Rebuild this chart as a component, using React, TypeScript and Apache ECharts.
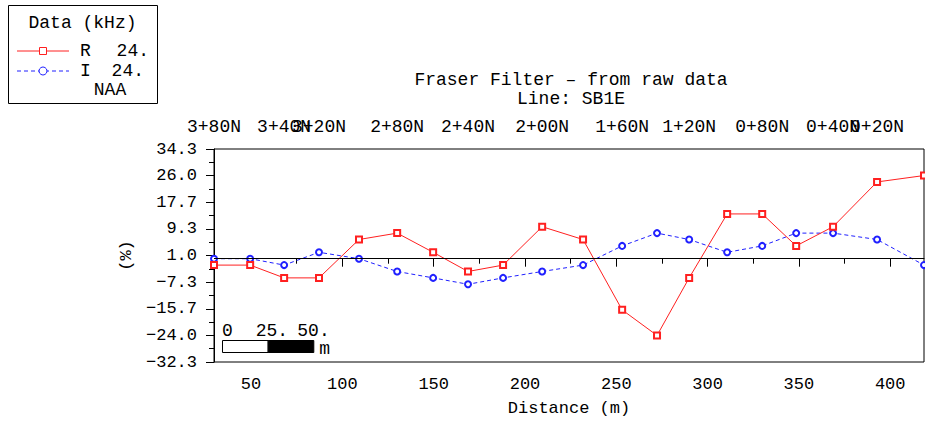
import React, { useEffect, useRef } from "react";
import * as echarts from "echarts";

// Station distances along line SB1E (m)
const distances = [29.7, 49.5, 68.1, 87.2, 109.1, 130.0, 149.7, 168.8, 188.0, 209.4, 231.8, 253.2, 272.3, 289.9, 310.7, 329.9, 348.5, 368.7, 392.8, 418.5];
const stations = ["3+80N", "3+60N", "3+40N", "3+20N", "3+00N", "2+80N", "2+60N", "2+40N", "2+20N", "2+00N", "1+80N", "1+60N", "1+40N", "1+20N", "1+00N", "0+80N", "0+60N", "0+40N", "0+20N", "0+00N"];
// Stations printed along the top of the profile
const stationLabels = ["3+80N", "3+40N", "3+20N", "2+80N", "2+40N", "2+00N", "1+60N", "1+20N", "0+80N", "0+40N", "0+20N"];

// Fraser-filtered VLF response (%), 24 kHz NAA
const realValues = [-2, -2, -6, -6, 6, 8, 2, -4, -2, 10, 6, -16, -24, -6, 14, 14, 4, 10, 24, 26];
const imagValues = [0, 0, -2, 2, 0, -4, -6, -8, -6, -4, -2, 4, 8, 6, 2, 4, 8, 8, 6, -2];

const yTickLabels = ["34.3", "26.0", "17.7", "9.3", "1.0", "-7.3", "-15.7", "-24.0", "-32.3"];
const xTickLabels = ["50", "100", "150", "200", "250", "300", "350", "400"];

const FONT = "'Liberation Mono', monospace";
const X_MIN = 29.7;
const X_MAX = 418.5;

const fmtMinus = (s: string) => s.replace("-", "\u2212");

export default function App() {
  const ref = useRef<HTMLDivElement>(null);

  useEffect(() => {
    if (!ref.current) return;
    const chart = echarts.init(ref.current, undefined, { renderer: "svg" });

    const yTicks = yTickLabels.map(Number);
    const yMinor = yTicks.slice(1).map((v, i) => (v + yTicks[i]) / 2);
    const xTicks = xTickLabels.map(Number);
    const xMinor = xTicks.slice(1).map((v, i) => (v + xTicks[i]) / 2);
    const topValues = stationLabels.map((s) => distances[stations.indexOf(s)]);

    const text = { color: "#000", fontFamily: FONT, fontSize: 17 };
    const gfont = `18px ${FONT}`;

    const stationName = (v: number) => {
      const i = topValues.findIndex((d) => Math.abs(d - v) < 1e-6);
      return i >= 0 ? stationLabels[i] : "";
    };
    // Station names along the top edge; the last one sits on its own axis so
    // the overlap check between neighbouring end labels never drops one.
    const stationAxis = (values: number[]) => ({
      type: "value",
      position: "top",
      min: X_MIN,
      max: X_MAX,
      splitLine: { show: false },
      axisLine: { show: false },
      axisTick: { show: false },
      axisLabel: {
        customValues: values,
        margin: 13,
        hideOverlap: false,
        showMinLabel: true,
        showMaxLabel: true,
        formatter: stationName,
        ...text,
        fontSize: 18,
      },
    });

    chart.setOption({
      animation: false,
      backgroundColor: "#fff",
      title: {
        text: "Fraser Filter \u2013 from raw data\nLine: SB1E",
        left: 566,
        top: 65,
        textAlign: "center",
        textStyle: { ...text, fontSize: 18, fontWeight: "normal", lineHeight: 19 },
      },
      grid: {
        left: 214,
        right: 1,
        top: 149,
        bottom: 59,
        show: true,
        borderColor: "#000",
        borderWidth: 1,
        outerBoundsMode: "none",
      },
      xAxis: [
        {
          type: "value",
          position: "bottom",
          min: X_MIN,
          max: X_MAX,
          name: "Distance (m)",
          nameLocation: "middle",
          nameGap: 38,
          nameTextStyle: text,
          splitLine: { show: false },
          axisLine: { show: true, lineStyle: { color: "#000", width: 1 } },
          axisTick: { show: true, customValues: xTicks, length: 8, lineStyle: { color: "#000" } },
          axisLabel: { customValues: xTicks, margin: 14, hideOverlap: false, ...text },
        },
        {
          type: "value",
          position: "bottom",
          min: X_MIN,
          max: X_MAX,
          splitLine: { show: false },
          axisLine: { show: false },
          axisTick: { show: true, customValues: xMinor, length: 5, lineStyle: { color: "#000" } },
          axisLabel: { show: false },
        },
        stationAxis(topValues.slice(0, -1)),
        stationAxis(topValues.slice(-1)),
      ],
      yAxis: [
        {
          type: "value",
          min: -32.3,
          max: 34.3,
          name: "(%)",
          nameLocation: "middle",
          nameGap: 78,
          nameRotate: 90,
          nameTextStyle: text,
          splitLine: { show: false },
          axisLine: { show: true, lineStyle: { color: "#000", width: 1 } },
          axisTick: { show: true, customValues: yTicks, length: 8, lineStyle: { color: "#000" } },
          axisLabel: {
            customValues: yTicks,
            margin: 17,
            hideOverlap: false,
            showMinLabel: true,
            showMaxLabel: true,
            formatter: (v: number) => fmtMinus(v.toFixed(1)),
            ...text,
          },
        },
        {
          type: "value",
          min: -32.3,
          max: 34.3,
          position: "left",
          splitLine: { show: false },
          axisLine: { show: false },
          axisTick: { show: true, customValues: yMinor, length: 5, lineStyle: { color: "#000" } },
          axisLabel: { show: false },
        },
      ],
      series: [
        {
          name: "R",
          type: "line",
          data: distances.map((d, i) => [d, realValues[i]]),
          symbol: "emptyRect",
          symbolSize: 6,
          itemStyle: { color: "#ff2020", borderWidth: 1 },
          lineStyle: { color: "#ff2020", width: 1 },
          markLine: {
            silent: true,
            symbol: "none",
            label: { show: false },
            lineStyle: { color: "#000", width: 1, type: "solid" },
            data: [{ yAxis: 0 }],
          },
          z: 3,
        },
        {
          name: "I",
          type: "line",
          data: distances.map((d, i) => [d, imagValues[i]]),
          symbol: "emptyCircle",
          symbolSize: 6,
          itemStyle: { color: "#2020ff", borderWidth: 1 },
          lineStyle: { color: "#2020ff", width: 1, type: [4, 3] },
          z: 2,
        },
      ],
    });

    // 50 m scale bar inside the plot
    const px = (v: number) => chart.convertToPixel({ xAxisIndex: 0 }, v) as number;
    const barLen = px(50) - px(0);
    const bx = 222;
    const by = 340;
    const bh = 12;

    chart.setOption({
      graphic: [
        // legend box
        { type: "rect", shape: { x: 8.5, y: 5.5, width: 149, height: 98 }, style: { fill: "#fff", stroke: "#000", lineWidth: 1 }, z: 10 },
        { type: "text", x: 82.5, y: 23, style: { text: "Data (kHz)", fill: "#000", align: "center", verticalAlign: "middle", font: gfont }, z: 11 },
        { type: "line", shape: { x1: 17, y1: 51, x2: 69, y2: 51 }, style: { stroke: "#ff2020", lineWidth: 1 }, z: 11 },
        { type: "rect", shape: { x: 39.5, y: 47.5, width: 7, height: 7 }, style: { fill: "#fff", stroke: "#ff2020", lineWidth: 1 }, z: 12 },
        { type: "text", x: 80, y: 51, style: { text: "R", fill: "#000", verticalAlign: "middle", font: gfont }, z: 11 },
        { type: "text", x: 149, y: 51, style: { text: "24.", fill: "#000", align: "right", verticalAlign: "middle", font: gfont }, z: 11 },
        { type: "line", shape: { x1: 17, y1: 71, x2: 69, y2: 71 }, style: { stroke: "#2020ff", lineWidth: 1, lineDash: [4, 3] }, z: 11 },
        { type: "circle", shape: { cx: 43, cy: 71, r: 4 }, style: { fill: "#fff", stroke: "#2020ff", lineWidth: 1 }, z: 12 },
        { type: "text", x: 80, y: 71, style: { text: "I", fill: "#000", verticalAlign: "middle", font: gfont }, z: 11 },
        { type: "text", x: 144, y: 71, style: { text: "24.", fill: "#000", align: "right", verticalAlign: "middle", font: gfont }, z: 11 },
        { type: "text", x: 110, y: 90, style: { text: "NAA", fill: "#000", align: "center", verticalAlign: "middle", font: gfont }, z: 11 },
        // scale bar
        { type: "rect", shape: { x: bx + 0.5, y: by + 0.5, width: barLen / 2, height: bh }, style: { fill: "#fff", stroke: "#000", lineWidth: 1 }, z: 10 },
        { type: "rect", shape: { x: bx + 0.5 + barLen / 2, y: by + 0.5, width: barLen / 2, height: bh }, style: { fill: "#000", stroke: "#000", lineWidth: 1 }, z: 10 },
        { type: "text", x: bx, y: 331, style: { text: "0", fill: "#000", verticalAlign: "middle", font: gfont }, z: 10 },
        { type: "text", x: bx + barLen / 2 - 12, y: 331, style: { text: "25.", fill: "#000", verticalAlign: "middle", font: gfont }, z: 10 },
        { type: "text", x: bx + barLen - 16, y: 331, style: { text: "50.", fill: "#000", verticalAlign: "middle", font: gfont }, z: 10 },
        { type: "text", x: bx + barLen + 6, y: 349, style: { text: "m", fill: "#000", verticalAlign: "middle", font: gfont }, z: 10 },
      ],
    });

    return () => chart.dispose();
  }, []);

  return (
    <div
      ref={ref}
      style={{ position: "fixed", left: 0, top: 0, width: 925, height: 421, background: "#fff" }}
    />
  );
}
